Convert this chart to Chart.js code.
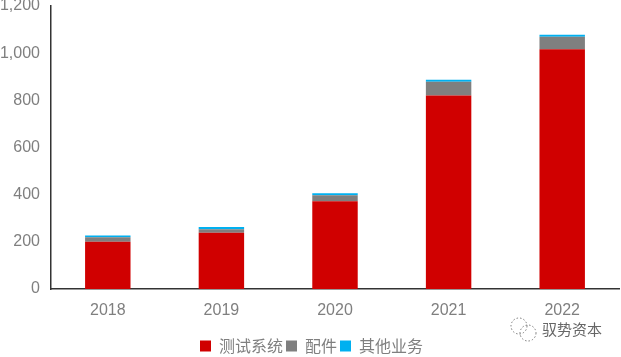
<!DOCTYPE html>
<html>
<head>
<meta charset="utf-8">
<script src="https://cdn.jsdelivr.net/npm/chart.js@4"></script>
<style>
    html, body { margin: 0; padding: 0; background: #fff; }
    #wrap { position: relative; width: 621px; height: 357px; overflow: hidden; }
    #mark { position: absolute; left: 542px; top: 319px; font: 15px "Noto Sans CJK SC"; color: #666; line-height: 20px; white-space: nowrap; }
    #logo { position: absolute; left: 509px; top: 316px; }
</style>
</head>
<body>
<div id="wrap">
    <canvas id="chart" width="621" height="357"></canvas>
    <svg id="logo" width="30" height="28" fill="none" stroke="#777" stroke-width="1" stroke-dasharray="1.5 2">
        <circle cx="10" cy="10" r="8"></circle>
        <circle cx="19" cy="17" r="8"></circle>
    </svg>
    <div id="mark">驭势资本</div>
</div>
<script>
// Data
const years = ['2018', '2019', '2020', '2021', '2022'];
const testSystems = [200, 238, 372, 820, 1017];
const parts = [19, 15, 26, 59, 53];
const otherBusiness = [8, 10, 8, 8, 8];
const yTicks = [0, 200, 400, 600, 800, 1000, 1200];

const textColor = '#7f7f7f';
const tickFont = { family: '"Liberation Sans", Arial, sans-serif', size: 16 };

// legend sits slightly right of centre in the source
const nudgeLegend = {
    id: 'nudgeLegend',
    afterLayout(chart) {
        chart.legend.left += 2;
        chart.legend.right += 2;
    }
};

new Chart(document.getElementById('chart').getContext('2d'), {
    type: 'bar',
    data: {
        labels: years,
        datasets: [
            { label: '测试系统', data: testSystems, backgroundColor: '#d00000' },
            { label: '配件', data: parts, backgroundColor: '#7f7f7f' },
            { label: '其他业务', data: otherBusiness, backgroundColor: '#00b0f0' }
        ]
    },
    plugins: [nudgeLegend],
    options: {
        responsive: false,
        animation: false,
        // bars are 45px wide in a 114px slot
        datasets: { bar: { categoryPercentage: 1.0, barPercentage: 0.4 } },
        layout: { padding: { left: 0, right: 2, top: 6, bottom: -7 } },
        plugins: {
            tooltip: { enabled: false },
            legend: {
                position: 'bottom',
                labels: {
                    boxWidth: 11,
                    boxHeight: 11,
                    padding: 3,
                    color: textColor,
                    font: { family: '"Noto Sans CJK SC"', size: 16 }
                }
            }
        },
        scales: {
            x: {
                stacked: true,
                grid: { display: false, drawTicks: false },
                border: { color: '#333333', width: 1.5 },
                ticks: { color: textColor, font: tickFont, padding: 12, maxRotation: 0 },
                afterFit: axis => { axis.height = 46; }
            },
            y: {
                stacked: true,
                min: 0,
                max: 1200,
                afterBuildTicks: axis => { axis.ticks = yTicks.map(v => ({ value: v })); },
                grid: { display: false, drawTicks: false },
                border: { color: '#333333', width: 1.5 },
                ticks: {
                    color: textColor,
                    font: tickFont,
                    padding: 11,
                    callback: v => v.toLocaleString('en-US')
                },
                // top label may run up to the canvas edge like the source picture
                afterFit: axis => { axis.width = 51; axis.paddingTop = 0; axis.paddingBottom = 0; }
            }
        }
    }
});
</script>
</body>
</html>
